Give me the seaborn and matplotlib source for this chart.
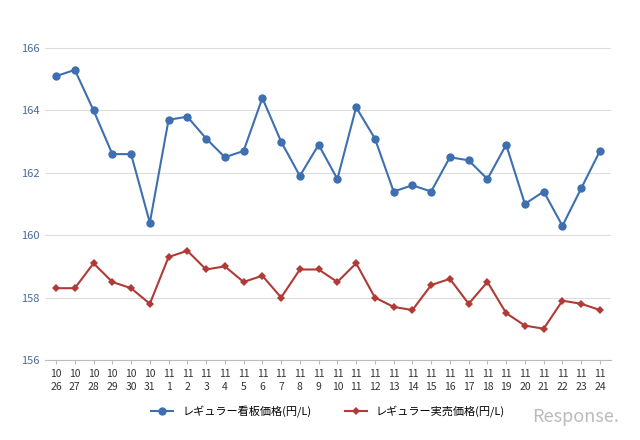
import matplotlib
matplotlib.use("Agg")
import matplotlib.pyplot as plt
import seaborn as sns
import pandas as pd

months = ["10"]*6 + ["11"]*24
days = ["26","27","28","29","30","31"] + [str(i) for i in range(1,25)]
signboard = [165.1,165.3,164.0,162.6,162.6,160.4,163.7,163.8,163.1,162.5,162.7,164.4,163.0,161.9,162.9,
             161.8,164.1,163.1,161.4,161.6,161.4,162.5,162.4,161.8,162.9,161.0,161.4,160.3,161.5,162.7]
actual = [158.3,158.3,159.1,158.5,158.3,157.8,159.3,159.5,158.9,159.0,158.5,158.7,158.0,158.9,158.9,
          158.5,159.1,158.0,157.7,157.6,158.4,158.6,157.8,158.5,157.5,157.1,157.0,157.9,157.8,157.6]
s1 = "レギュラー看板価格(円/L)"
s2 = "レギュラー実売価格(円/L)"

plt.rcParams["font.family"] = "Noto Sans CJK JP"
idx = list(range(len(days)))
df = pd.DataFrame({"x": idx*2, "v": signboard+actual, "s": [s1]*len(idx)+[s2]*len(idx)})

fig = plt.figure(figsize=(6.4,4.4), dpi=100)
ax = fig.add_axes([0.07, 0.182, 0.885, 0.73])
pal = {s1:"#3e6fb0", s2:"#b03a36"}
sns.lineplot(data=df, x="x", y="v", hue="s", style="s", markers={s1:"o", s2:"D"}, dashes=False,
             palette=pal, ax=ax, markersize=6, linewidth=1.5, markeredgewidth=0)
for l in ax.lines:
    if l.get_marker()=="D": l.set_markersize(4.5)
ax.set_ylim(156,166.3)
ax.set_yticks([156,158,160,162,164,166])
ax.set_xlim(-0.6, len(idx)-0.4)
ax.set_xticks(idx)
ax.set_xticklabels([f"{m}\n{d}" for m,d in zip(months,days)], fontsize=7.5, color="#333333", linespacing=1.4)
ax.tick_params(axis="y", labelsize=8, colors="#4a6a9a", length=0)
ax.tick_params(axis="x", length=3, color="#bbbbbb")
ax.grid(axis="y", color="#dddddd", linewidth=0.8)
ax.set_axisbelow(True)
for sp in ["top","right","left"]: ax.spines[sp].set_visible(False)
ax.spines["bottom"].set_color("#bbbbbb")
ax.set_xlabel(""); ax.set_ylabel("")
h, lab = ax.get_legend_handles_labels()
ax.legend(h, lab, loc="upper center", bbox_to_anchor=(0.5,-0.11), ncol=2, frameon=False, fontsize=8,
          columnspacing=3, handlelength=2)
fig.text(0.9, 0.04, "Response.", fontsize=13, color="#bbbbbb", style="italic", ha="center")
fig.savefig("out.png")
